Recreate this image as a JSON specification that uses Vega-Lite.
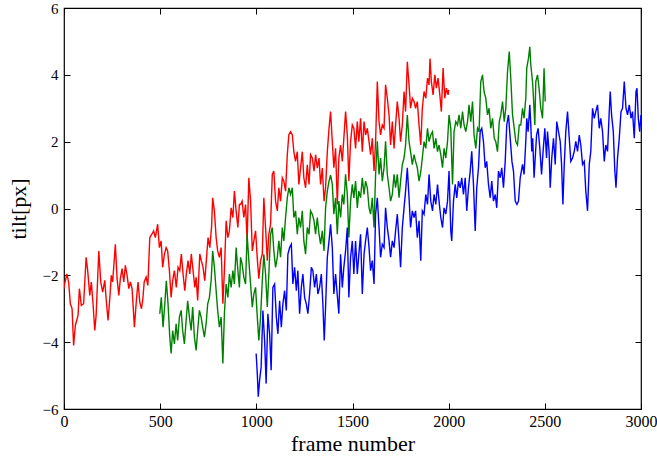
{
"$schema":"https://vega.github.io/schema/vega-lite/v6.json",
"width":577,"height":401,
"autosize":{"type":"none"},
"padding":{"left":64,"top":8,"right":16,"bottom":53},
"background":"white",
"config":{"view":{"stroke":"#000","strokeWidth":1.2},"font":"Liberation Serif"},
"datasets":{
"red":[{"f":0,"v":-2.4},{"f":3,"v":-2.26},{"f":15,"v":-1.96},{"f":24,"v":-2.2},{"f":33,"v":-2.85},{"f":42,"v":-3.0},{"f":50,"v":-4.1},{"f":59,"v":-3.5},{"f":73,"v":-3.2},{"f":80,"v":-2.4},{"f":90,"v":-2.9},{"f":102,"v":-2.85},{"f":115,"v":-1.46},{"f":123,"v":-1.85},{"f":134,"v":-2.6},{"f":142,"v":-2.2},{"f":151,"v":-2.85},{"f":160,"v":-3.65},{"f":167,"v":-3.2},{"f":181,"v":-1.27},{"f":191,"v":-2.2},{"f":201,"v":-2.5},{"f":212,"v":-2.15},{"f":219,"v":-2.7},{"f":229,"v":-3.35},{"f":238,"v":-2.7},{"f":246,"v":-2.0},{"f":253,"v":-2.2},{"f":267,"v":-1.07},{"f":276,"v":-2.1},{"f":285,"v":-2.6},{"f":293,"v":-2.1},{"f":302,"v":-1.8},{"f":311,"v":-2.2},{"f":319,"v":-1.7},{"f":328,"v":-2.0},{"f":337,"v":-2.4},{"f":345,"v":-2.2},{"f":354,"v":-2.4},{"f":366,"v":-3.55},{"f":377,"v":-2.7},{"f":385,"v":-2.2},{"f":394,"v":-2.8},{"f":403,"v":-3.0},{"f":410,"v":-2.7},{"f":417,"v":-2.2},{"f":427,"v":-2.05},{"f":436,"v":-2.3},{"f":446,"v":-0.87},{"f":457,"v":-0.77},{"f":466,"v":-0.67},{"f":475,"v":-0.87},{"f":487,"v":-0.47},{"f":496,"v":-1.17},{"f":505,"v":-0.97},{"f":513,"v":-1.76},{"f":522,"v":-1.37},{"f":531,"v":-1.17},{"f":539,"v":-1.27},{"f":548,"v":-1.86},{"f":557,"v":-2.66},{"f":565,"v":-2.16},{"f":574,"v":-1.86},{"f":584,"v":-2.36},{"f":593,"v":-1.76},{"f":602,"v":-1.86},{"f":610,"v":-1.36},{"f":619,"v":-1.96},{"f":628,"v":-2.46},{"f":636,"v":-1.96},{"f":645,"v":-1.56},{"f":654,"v":-1.96},{"f":662,"v":-1.36},{"f":671,"v":-1.86},{"f":680,"v":-2.36},{"f":687,"v":-2.06},{"f":695,"v":-2.75},{"f":706,"v":-1.36},{"f":714,"v":-1.56},{"f":723,"v":-1.76},{"f":732,"v":-2.16},{"f":740,"v":-1.56},{"f":749,"v":-0.87},{"f":758,"v":-1.17},{"f":767,"v":-0.57},{"f":773,"v":0.32},{"f":782,"v":-0.08},{"f":791,"v":-0.87},{"f":799,"v":-1.27},{"f":808,"v":-1.46},{"f":817,"v":-1.17},{"f":826,"v":-2.85},{"f":834,"v":-1.86},{"f":843,"v":-0.37},{"f":852,"v":-0.87},{"f":860,"v":-0.67},{"f":869,"v":0.02},{"f":878,"v":-0.27},{"f":886,"v":0.52},{"f":895,"v":-0.08},{"f":904,"v":-0.57},{"f":912,"v":0.12},{"f":918,"v":0.12},{"f":926,"v":0.22},{"f":935,"v":-0.27},{"f":944,"v":0.12},{"f":952,"v":-0.97},{"f":961,"v":0.92},{"f":970,"v":0.22},{"f":979,"v":-1.27},{"f":987,"v":-0.97},{"f":996,"v":-0.67},{"f":1005,"v":-1.5},{"f":1013,"v":-2.1},{"f":1022,"v":-1.56},{"f":1031,"v":-1.37},{"f":1039,"v":0.32},{"f":1048,"v":-0.57},{"f":1057,"v":-1.56},{"f":1065,"v":-0.77},{"f":1074,"v":-0.47},{"f":1083,"v":1.02},{"f":1091,"v":1.12},{"f":1100,"v":0.22},{"f":1109,"v":-0.07},{"f":1117,"v":0.62},{"f":1126,"v":0.22},{"f":1135,"v":0.92},{"f":1143,"v":0.82},{"f":1152,"v":0.52},{"f":1161,"v":1.61},{"f":1169,"v":2.21},{"f":1178,"v":2.3},{"f":1187,"v":2.21},{"f":1195,"v":1.7},{"f":1204,"v":1.41},{"f":1213,"v":1.7},{"f":1221,"v":0.72},{"f":1230,"v":1.21},{"f":1239,"v":1.7},{"f":1247,"v":0.92},{"f":1256,"v":0.62},{"f":1265,"v":1.31},{"f":1274,"v":0.72},{"f":1282,"v":1.61},{"f":1291,"v":1.51},{"f":1300,"v":1.12},{"f":1308,"v":1.61},{"f":1317,"v":1.21},{"f":1326,"v":1.51},{"f":1334,"v":0.72},{"f":1343,"v":1.21},{"f":1352,"v":0.22},{"f":1360,"v":0.62},{"f":1369,"v":1.7},{"f":1378,"v":2.4},{"f":1386,"v":2.9},{"f":1395,"v":2.0},{"f":1403,"v":1.22},{"f":1412,"v":1.8},{"f":1421,"v":0.12},{"f":1429,"v":1.51},{"f":1438,"v":1.9},{"f":1447,"v":1.41},{"f":1455,"v":2.1},{"f":1464,"v":2.9},{"f":1473,"v":2.2},{"f":1481,"v":0.82},{"f":1490,"v":2.0},{"f":1499,"v":2.5},{"f":1507,"v":2.4},{"f":1516,"v":1.8},{"f":1525,"v":2.6},{"f":1533,"v":2.0},{"f":1542,"v":2.7},{"f":1551,"v":1.7},{"f":1560,"v":2.6},{"f":1568,"v":2.2},{"f":1577,"v":2.4},{"f":1586,"v":2.0},{"f":1594,"v":1.61},{"f":1603,"v":2.1},{"f":1612,"v":1.12},{"f":1620,"v":2.0},{"f":1629,"v":3.8},{"f":1638,"v":2.6},{"f":1646,"v":2.2},{"f":1655,"v":2.5},{"f":1664,"v":2.4},{"f":1672,"v":3.7},{"f":1681,"v":3.3},{"f":1690,"v":2.8},{"f":1698,"v":1.9},{"f":1707,"v":2.6},{"f":1716,"v":1.8},{"f":1724,"v":2.5},{"f":1733,"v":3.2},{"f":1742,"v":2.7},{"f":1750,"v":2.0},{"f":1759,"v":2.5},{"f":1768,"v":3.5},{"f":1776,"v":2.9},{"f":1785,"v":4.39},{"f":1794,"v":3.7},{"f":1802,"v":3.0},{"f":1811,"v":3.3},{"f":1820,"v":3.2},{"f":1828,"v":3.0},{"f":1837,"v":3.2},{"f":1846,"v":2.5},{"f":1855,"v":1.9},{"f":1863,"v":3.0},{"f":1872,"v":3.5},{"f":1881,"v":3.3},{"f":1890,"v":3.9},{"f":1898,"v":3.7},{"f":1903,"v":4.49},{"f":1910,"v":3.8},{"f":1919,"v":3.4},{"f":1928,"v":4.0},{"f":1936,"v":3.6},{"f":1945,"v":3.9},{"f":1954,"v":3.4},{"f":1962,"v":2.9},{"f":1971,"v":4.2},{"f":1980,"v":3.3},{"f":1988,"v":3.6},{"f":1997,"v":3.4},{"f":2000,"v":3.55}],
"green":[{"f":498,"v":-3.15},{"f":506,"v":-2.66},{"f":515,"v":-3.55},{"f":524,"v":-2.86},{"f":532,"v":-2.16},{"f":541,"v":-2.86},{"f":550,"v":-3.85},{"f":557,"v":-4.34},{"f":565,"v":-3.65},{"f":574,"v":-4.05},{"f":583,"v":-3.45},{"f":591,"v":-3.95},{"f":600,"v":-3.25},{"f":609,"v":-3.05},{"f":617,"v":-3.65},{"f":626,"v":-4.05},{"f":635,"v":-3.35},{"f":643,"v":-2.76},{"f":652,"v":-3.25},{"f":661,"v":-3.65},{"f":669,"v":-2.95},{"f":678,"v":-3.85},{"f":687,"v":-4.25},{"f":695,"v":-3.65},{"f":704,"v":-3.05},{"f":713,"v":-3.25},{"f":721,"v":-3.55},{"f":730,"v":-3.85},{"f":739,"v":-3.45},{"f":747,"v":-2.86},{"f":756,"v":-2.66},{"f":765,"v":-2.16},{"f":773,"v":-1.27},{"f":782,"v":-1.76},{"f":791,"v":-2.46},{"f":799,"v":-3.05},{"f":808,"v":-3.55},{"f":817,"v":-3.25},{"f":826,"v":-4.64},{"f":834,"v":-3.15},{"f":843,"v":-2.26},{"f":852,"v":-2.66},{"f":860,"v":-1.96},{"f":869,"v":-2.36},{"f":878,"v":-1.86},{"f":886,"v":-2.26},{"f":895,"v":-1.17},{"f":904,"v":-1.86},{"f":912,"v":-2.36},{"f":918,"v":-1.46},{"f":926,"v":-1.66},{"f":935,"v":-2.06},{"f":944,"v":-2.26},{"f":952,"v":-0.77},{"f":961,"v":-1.56},{"f":970,"v":-2.26},{"f":979,"v":-2.95},{"f":987,"v":-2.56},{"f":996,"v":-2.36},{"f":1005,"v":-3.25},{"f":1013,"v":-3.95},{"f":1022,"v":-3.25},{"f":1031,"v":-2.16},{"f":1039,"v":-1.37},{"f":1048,"v":-1.96},{"f":1057,"v":-2.95},{"f":1065,"v":-1.96},{"f":1074,"v":-0.77},{"f":1083,"v":-0.57},{"f":1091,"v":-1.27},{"f":1100,"v":-1.76},{"f":1109,"v":-1.46},{"f":1117,"v":-0.97},{"f":1126,"v":-1.46},{"f":1135,"v":-0.57},{"f":1143,"v":-0.97},{"f":1152,"v":-0.27},{"f":1161,"v":0.32},{"f":1169,"v":0.62},{"f":1178,"v":0.42},{"f":1187,"v":0.62},{"f":1195,"v":-0.27},{"f":1204,"v":-0.07},{"f":1213,"v":-0.77},{"f":1221,"v":-0.27},{"f":1230,"v":-0.57},{"f":1239,"v":-0.07},{"f":1247,"v":-0.97},{"f":1256,"v":-1.37},{"f":1265,"v":-0.57},{"f":1274,"v":-0.77},{"f":1282,"v":-0.07},{"f":1291,"v":-0.17},{"f":1300,"v":-0.37},{"f":1308,"v":-0.77},{"f":1317,"v":-0.27},{"f":1326,"v":-0.77},{"f":1334,"v":-1.07},{"f":1343,"v":-0.67},{"f":1352,"v":-1.27},{"f":1360,"v":0.02},{"f":1369,"v":0.52},{"f":1378,"v":0.82},{"f":1386,"v":1.0},{"f":1395,"v":0.72},{"f":1403,"v":-0.17},{"f":1412,"v":0.32},{"f":1421,"v":-0.77},{"f":1429,"v":0.22},{"f":1438,"v":-0.27},{"f":1447,"v":0.42},{"f":1455,"v":0.12},{"f":1464,"v":1.02},{"f":1473,"v":0.42},{"f":1481,"v":-0.87},{"f":1490,"v":0.22},{"f":1499,"v":0.72},{"f":1507,"v":0.32},{"f":1516,"v":0.82},{"f":1525,"v":0.02},{"f":1533,"v":0.52},{"f":1542,"v":0.32},{"f":1551,"v":0.92},{"f":1560,"v":0.42},{"f":1568,"v":0.82},{"f":1577,"v":0.62},{"f":1586,"v":0.02},{"f":1594,"v":-0.17},{"f":1603,"v":0.32},{"f":1612,"v":-0.57},{"f":1620,"v":1.02},{"f":1629,"v":2.01},{"f":1638,"v":1.02},{"f":1646,"v":1.51},{"f":1655,"v":0.82},{"f":1664,"v":1.22},{"f":1672,"v":2.01},{"f":1681,"v":1.02},{"f":1690,"v":0.62},{"f":1698,"v":0.22},{"f":1707,"v":0.42},{"f":1716,"v":1.02},{"f":1724,"v":0.62},{"f":1733,"v":1.02},{"f":1742,"v":0.32},{"f":1750,"v":0.82},{"f":1759,"v":1.31},{"f":1768,"v":1.51},{"f":1776,"v":1.9},{"f":1785,"v":2.8},{"f":1794,"v":2.0},{"f":1802,"v":1.7},{"f":1811,"v":1.31},{"f":1820,"v":1.61},{"f":1828,"v":1.41},{"f":1837,"v":1.22},{"f":1846,"v":0.82},{"f":1855,"v":1.1},{"f":1863,"v":1.51},{"f":1872,"v":2.0},{"f":1881,"v":1.8},{"f":1890,"v":2.4},{"f":1898,"v":2.0},{"f":1907,"v":2.2},{"f":1916,"v":2.3},{"f":1924,"v":1.8},{"f":1933,"v":2.1},{"f":1942,"v":1.7},{"f":1950,"v":1.9},{"f":1959,"v":1.61},{"f":1968,"v":1.22},{"f":1976,"v":1.8},{"f":1985,"v":1.51},{"f":1994,"v":2.0},{"f":2002,"v":2.8},{"f":2011,"v":2.4},{"f":2020,"v":0.72},{"f":2028,"v":2.3},{"f":2037,"v":2.6},{"f":2046,"v":2.5},{"f":2054,"v":2.8},{"f":2063,"v":2.4},{"f":2072,"v":2.9},{"f":2080,"v":2.5},{"f":2089,"v":2.3},{"f":2098,"v":2.6},{"f":2106,"v":3.1},{"f":2115,"v":2.6},{"f":2124,"v":3.2},{"f":2132,"v":2.2},{"f":2141,"v":1.8},{"f":2150,"v":2.4},{"f":2158,"v":2.3},{"f":2167,"v":3.8},{"f":2176,"v":4.0},{"f":2184,"v":3.5},{"f":2193,"v":3.3},{"f":2202,"v":2.8},{"f":2210,"v":3.0},{"f":2219,"v":2.4},{"f":2228,"v":2.7},{"f":2237,"v":2.1},{"f":2245,"v":2.0},{"f":2254,"v":1.7},{"f":2263,"v":2.6},{"f":2271,"v":2.8},{"f":2280,"v":3.2},{"f":2289,"v":2.6},{"f":2297,"v":3.0},{"f":2306,"v":4.1},{"f":2315,"v":4.7},{"f":2323,"v":3.9},{"f":2332,"v":2.8},{"f":2341,"v":2.4},{"f":2349,"v":2.0},{"f":2358,"v":1.9},{"f":2367,"v":2.5},{"f":2375,"v":2.5},{"f":2384,"v":3.0},{"f":2392,"v":2.7},{"f":2401,"v":3.3},{"f":2406,"v":4.2},{"f":2415,"v":4.5},{"f":2422,"v":4.84},{"f":2427,"v":4.3},{"f":2436,"v":3.8},{"f":2441,"v":3.3},{"f":2448,"v":2.5},{"f":2453,"v":3.8},{"f":2462,"v":4.0},{"f":2470,"v":3.6},{"f":2479,"v":3.0},{"f":2488,"v":2.7},{"f":2496,"v":4.2},{"f":2502,"v":3.2}],
"blue":[{"f":999,"v":-4.34},{"f":1005,"v":-4.94},{"f":1010,"v":-5.63},{"f":1017,"v":-5.14},{"f":1025,"v":-4.74},{"f":1034,"v":-3.05},{"f":1043,"v":-3.95},{"f":1051,"v":-5.24},{"f":1060,"v":-3.15},{"f":1069,"v":-3.75},{"f":1077,"v":-4.84},{"f":1086,"v":-2.36},{"f":1095,"v":-2.26},{"f":1104,"v":-3.25},{"f":1112,"v":-3.75},{"f":1121,"v":-2.76},{"f":1130,"v":-3.55},{"f":1138,"v":-2.86},{"f":1147,"v":-2.46},{"f":1156,"v":-3.05},{"f":1164,"v":-1.37},{"f":1173,"v":-1.17},{"f":1182,"v":-1.07},{"f":1190,"v":-2.26},{"f":1199,"v":-1.76},{"f":1208,"v":-2.46},{"f":1216,"v":-1.86},{"f":1225,"v":-3.15},{"f":1234,"v":-2.36},{"f":1242,"v":-1.96},{"f":1251,"v":-2.66},{"f":1260,"v":-2.86},{"f":1268,"v":-3.15},{"f":1277,"v":-2.56},{"f":1286,"v":-1.76},{"f":1294,"v":-1.86},{"f":1303,"v":-2.36},{"f":1312,"v":-1.96},{"f":1320,"v":-2.56},{"f":1329,"v":-2.36},{"f":1338,"v":-1.96},{"f":1346,"v":-2.86},{"f":1353,"v":-3.95},{"f":1360,"v":-2.95},{"f":1369,"v":-1.46},{"f":1378,"v":-0.97},{"f":1386,"v":-0.47},{"f":1395,"v":-1.17},{"f":1403,"v":-2.56},{"f":1412,"v":-1.96},{"f":1421,"v":-2.6},{"f":1429,"v":-3.15},{"f":1438,"v":-1.37},{"f":1447,"v":-2.36},{"f":1455,"v":-1.76},{"f":1464,"v":-1.27},{"f":1473,"v":-0.57},{"f":1481,"v":-2.66},{"f":1490,"v":-1.46},{"f":1499,"v":-0.97},{"f":1507,"v":-1.96},{"f":1516,"v":-0.97},{"f":1525,"v":-1.96},{"f":1533,"v":-1.37},{"f":1542,"v":-0.77},{"f":1551,"v":-2.56},{"f":1560,"v":-1.37},{"f":1568,"v":-0.97},{"f":1577,"v":-0.57},{"f":1586,"v":-1.17},{"f":1594,"v":-1.86},{"f":1603,"v":-1.56},{"f":1612,"v":-2.26},{"f":1620,"v":-0.17},{"f":1629,"v":0.32},{"f":1638,"v":-0.57},{"f":1646,"v":-1.46},{"f":1655,"v":-1.07},{"f":1664,"v":-1.17},{"f":1672,"v":0.02},{"f":1681,"v":-0.57},{"f":1690,"v":-0.97},{"f":1698,"v":-1.46},{"f":1707,"v":-0.97},{"f":1716,"v":-1.17},{"f":1724,"v":-0.67},{"f":1733,"v":-0.17},{"f":1742,"v":-0.97},{"f":1750,"v":-1.76},{"f":1759,"v":-0.57},{"f":1768,"v":0.02},{"f":1776,"v":0.52},{"f":1785,"v":1.22},{"f":1794,"v":0.32},{"f":1802,"v":-0.57},{"f":1811,"v":-0.07},{"f":1820,"v":-0.27},{"f":1828,"v":-0.07},{"f":1837,"v":-0.87},{"f":1846,"v":-0.37},{"f":1855,"v":-1.56},{"f":1863,"v":-0.07},{"f":1872,"v":-0.17},{"f":1881,"v":0.42},{"f":1890,"v":0.12},{"f":1898,"v":1.02},{"f":1907,"v":0.22},{"f":1916,"v":-0.07},{"f":1924,"v":0.42},{"f":1933,"v":0.12},{"f":1942,"v":0.72},{"f":1950,"v":0.22},{"f":1959,"v":-0.27},{"f":1968,"v":-0.57},{"f":1976,"v":0.02},{"f":1985,"v":-0.17},{"f":1994,"v":0.22},{"f":2002,"v":1.12},{"f":2011,"v":-0.67},{"f":2016,"v":-0.97},{"f":2025,"v":0.22},{"f":2034,"v":0.72},{"f":2042,"v":0.32},{"f":2051,"v":0.82},{"f":2060,"v":0.62},{"f":2068,"v":0.92},{"f":2077,"v":0.42},{"f":2086,"v":0.92},{"f":2094,"v":-0.07},{"f":2103,"v":0.62},{"f":2112,"v":1.12},{"f":2120,"v":1.71},{"f":2129,"v":0.72},{"f":2138,"v":-0.67},{"f":2146,"v":0.62},{"f":2155,"v":1.22},{"f":2164,"v":2.31},{"f":2172,"v":2.4},{"f":2181,"v":2.0},{"f":2190,"v":1.22},{"f":2198,"v":1.41},{"f":2207,"v":0.72},{"f":2216,"v":0.32},{"f":2224,"v":0.82},{"f":2233,"v":0.22},{"f":2242,"v":0.42},{"f":2250,"v":0.02},{"f":2259,"v":1.12},{"f":2268,"v":0.92},{"f":2276,"v":1.22},{"f":2285,"v":0.62},{"f":2294,"v":1.41},{"f":2302,"v":2.5},{"f":2311,"v":2.8},{"f":2320,"v":2.1},{"f":2329,"v":1.41},{"f":2337,"v":1.12},{"f":2346,"v":0.22},{"f":2355,"v":0.12},{"f":2363,"v":0.22},{"f":2372,"v":0.92},{"f":2384,"v":1.32},{"f":2392,"v":1.02},{"f":2401,"v":2.01},{"f":2406,"v":2.7},{"f":2413,"v":2.3},{"f":2422,"v":3.1},{"f":2427,"v":2.5},{"f":2432,"v":1.71},{"f":2437,"v":2.1},{"f":2444,"v":0.92},{"f":2450,"v":1.51},{"f":2457,"v":2.2},{"f":2465,"v":2.4},{"f":2474,"v":1.8},{"f":2483,"v":1.02},{"f":2491,"v":1.71},{"f":2500,"v":2.4},{"f":2509,"v":1.51},{"f":2514,"v":2.3},{"f":2522,"v":1.71},{"f":2528,"v":0.62},{"f":2536,"v":1.51},{"f":2545,"v":2.1},{"f":2554,"v":1.32},{"f":2562,"v":2.6},{"f":2571,"v":2.3},{"f":2580,"v":2.01},{"f":2587,"v":1.32},{"f":2594,"v":0.12},{"f":2601,"v":1.32},{"f":2609,"v":2.3},{"f":2618,"v":2.9},{"f":2627,"v":2.1},{"f":2635,"v":1.41},{"f":2644,"v":1.51},{"f":2653,"v":1.71},{"f":2661,"v":2.01},{"f":2670,"v":1.71},{"f":2679,"v":2.2},{"f":2687,"v":1.9},{"f":2696,"v":1.32},{"f":2705,"v":1.41},{"f":2713,"v":0.52},{"f":2722,"v":-0.07},{"f":2731,"v":1.32},{"f":2739,"v":1.71},{"f":2748,"v":3.0},{"f":2757,"v":2.7},{"f":2765,"v":2.9},{"f":2774,"v":3.1},{"f":2783,"v":2.4},{"f":2791,"v":2.7},{"f":2800,"v":2.3},{"f":2809,"v":1.41},{"f":2817,"v":1.9},{"f":2826,"v":1.71},{"f":2835,"v":2.9},{"f":2840,"v":3.5},{"f":2847,"v":2.8},{"f":2856,"v":2.3},{"f":2864,"v":1.12},{"f":2870,"v":0.62},{"f":2878,"v":1.51},{"f":2887,"v":2.1},{"f":2896,"v":2.9},{"f":2904,"v":3.0},{"f":2913,"v":3.8},{"f":2922,"v":3.0},{"f":2930,"v":2.8},{"f":2939,"v":3.1},{"f":2948,"v":2.7},{"f":2956,"v":2.9},{"f":2965,"v":2.1},{"f":2974,"v":3.5},{"f":2979,"v":3.6},{"f":2986,"v":2.7},{"f":2993,"v":2.3},{"f":3000,"v":2.8}]
},
"layer":[
{"data":{"name":"red"},"mark":{"type":"line","stroke":"#ff0000","strokeWidth":1.4,"clip":true},
 "encoding":{
  "x":{"field":"f","type":"quantitative","scale":{"domain":[0,3000],"nice":false,"zero":false},
   "axis":{"orient":"bottom","values":[0,500,1000,1500,2000,2500,3000],"format":"d","title":"frame number","grid":false,"domain":false,"tickSize":-6,"tickColor":"#000","tickWidth":1,"labelPadding":10,"labelFontSize":16,"labelColor":"#000","labelFont":"Liberation Serif","labelFlush":false,"titleFont":"Liberation Serif","titleFontSize":22,"titleFontWeight":"normal","titleColor":"#000","titlePadding":4}},
  "y":{"field":"v","type":"quantitative","scale":{"domain":[-6,6],"nice":false,"zero":false},
   "axis":{"orient":"left","values":[-6,-4,-2,0,2,4,6],"format":"d","title":"tilt[px]","grid":false,"domain":false,"tickSize":-6,"tickColor":"#000","tickWidth":1,"labelPadding":12,"labelFontSize":15,"labelColor":"#000","labelFont":"Liberation Serif","labelFlush":false,"titleFont":"Liberation Serif","titleFontSize":22,"titleFontWeight":"normal","titleColor":"#000","titlePadding":12}}
 }},
{"data":{"name":"green"},"mark":{"type":"line","stroke":"#008000","strokeWidth":1.4,"clip":true},
 "encoding":{"x":{"field":"f","type":"quantitative","axis":null},"y":{"field":"v","type":"quantitative","axis":null}}},
{"data":{"name":"blue"},"mark":{"type":"line","stroke":"#0000ff","strokeWidth":1.4,"clip":true},
 "encoding":{"x":{"field":"f","type":"quantitative","axis":null},"y":{"field":"v","type":"quantitative","axis":null}}},
{"data":{"values":[{"f":0,"v":0}]},"mark":{"type":"point","opacity":0},
 "encoding":{
  "x":{"field":"f","type":"quantitative","axis":{"orient":"top","values":[0,500,1000,1500,2000,2500,3000],"labels":false,"title":null,"grid":false,"domain":false,"tickSize":-6,"tickColor":"#000","tickWidth":1}},
  "y":{"field":"v","type":"quantitative","axis":{"orient":"right","values":[-6,-4,-2,0,2,4,6],"labels":false,"title":null,"grid":false,"domain":false,"tickSize":-6,"tickColor":"#000","tickWidth":1}}
 }}
],
"resolve":{"axis":{"x":"independent","y":"independent"}}
}
